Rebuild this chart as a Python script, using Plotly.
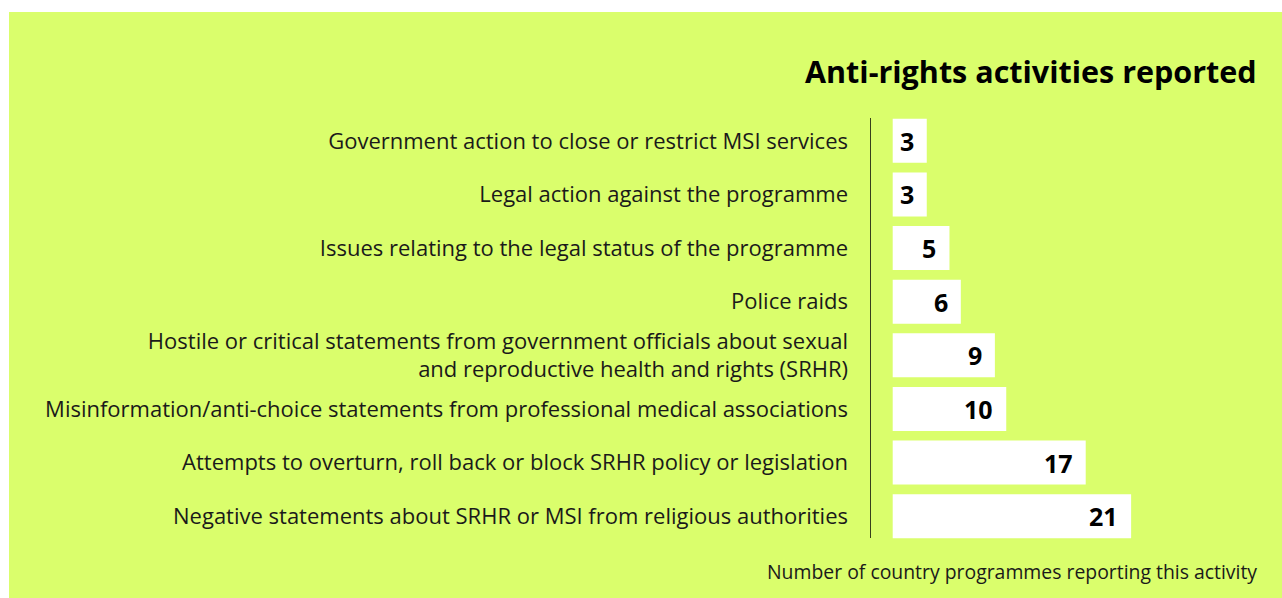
import plotly.graph_objects as go

categories = [
    "Government action to close or restrict MSI services",
    "Legal action against the programme",
    "Issues relating to the legal status of the programme",
    "Police raids",
    "Hostile or critical statements from government officials about sexual<br>and reproductive health and rights (SRHR)",
    "Misinformation/anti-choice statements from professional medical associations",
    "Attempts to overturn, roll back or block SRHR policy or legislation",
    "Negative statements about SRHR or MSI from religious authorities",
]
values = [3, 3, 5, 6, 9, 10, 17, 21]
title_text = "Anti-rights activities reported"
footer_text = "Number of country programmes reporting this activity"

W, H = 1282, 598
L, R, T, B = 870, 26, 114, 55
LIME = "#dafe6c"
FONT = "Open Sans"

def px_x(px):
    return (px - L) / (W - L - R)

def px_y(py):
    return (H - B - py) / (H - T - B)

fig = go.Figure()
fig.add_trace(go.Bar(
    x=values, y=list(range(len(categories))), orientation="h",
    marker=dict(color="white", line=dict(width=0)),
    width=0.82, hoverinfo="skip",
))

annotations = []
for i, v in enumerate(values):
    annotations.append(dict(x=v, y=i, xref="x", yref="y", text=f"<b>{v}</b>",
                            showarrow=False, xanchor="right", xshift=-11,
                            font=dict(family=FONT, size=25, color="#000000")))
annotations.append(dict(x=px_x(1259), y=px_y(71), xref="paper", yref="paper",
                        text=f"<b>{title_text}</b>", showarrow=False,
                        xanchor="right", yanchor="middle",
                        font=dict(family=FONT, size=30.5, color="#000000")))
annotations.append(dict(x=px_x(1259), y=px_y(571), xref="paper", yref="paper",
                        text=footer_text, showarrow=False,
                        xanchor="right", yanchor="middle",
                        font=dict(family=FONT, size=19.4, color="#1a1a1a")))

shapes = [
    dict(type="rect", xref="paper", yref="paper", x0=px_x(9), x1=px_x(W + 2),
         y0=px_y(12), y1=px_y(H + 2), fillcolor=LIME, line=dict(width=0), layer="below"),
    dict(type="line", xref="x", yref="paper", x0=-2, x1=-2,
         y0=px_y(118), y1=px_y(538), line=dict(color="#000000", width=1.5)),
]

fig.update_layout(
    width=W, height=H,
    margin=dict(l=L, r=R, t=T, b=B, pad=0),
    paper_bgcolor="white", plot_bgcolor="rgba(0,0,0,0)",
    showlegend=False,
    annotations=annotations, shapes=shapes,
    xaxis=dict(range=[-2, 32], visible=False, fixedrange=True),
    yaxis=dict(tickmode="array", tickvals=list(range(len(categories))), ticktext=categories,
               range=[len(categories) - 0.5, -0.5], showline=False, showgrid=False,
               zeroline=False, ticks="", ticklabelstandoff=21,
               tickfont=dict(family=FONT, size=22, color="#1a1a1a"), fixedrange=True),
    font=dict(family=FONT),
)

fig.write_html("out.html", config={"displayModeBar": False},
               post_script="document.body.style.margin='0';document.body.style.overflow='hidden';")
